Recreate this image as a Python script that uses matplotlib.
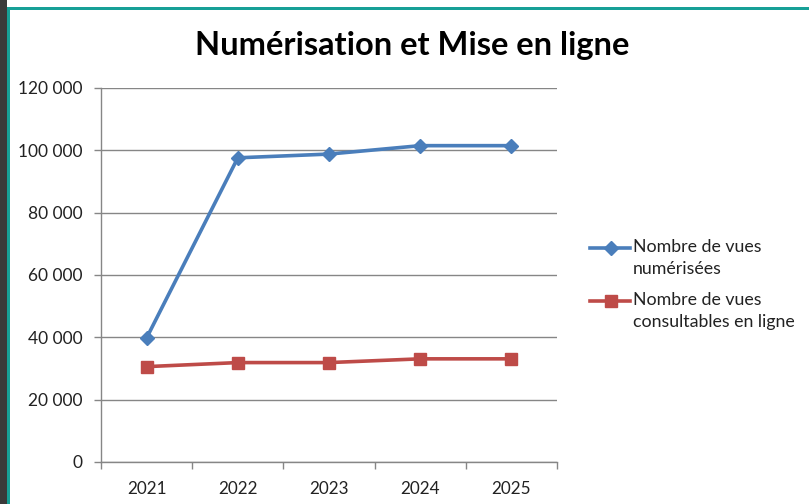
import numpy as np
import matplotlib
matplotlib.use("Agg")
import matplotlib.pyplot as plt
from matplotlib.patches import Rectangle
from matplotlib.lines import Line2D
from matplotlib.ticker import FuncFormatter, FixedLocator

plt.rcParams['font.family'] = ['Lato', 'DejaVu Sans']

# données
annees = ['2021', '2022', '2023', '2024', '2025']
vues_numerisees = [39800, 97600, 98800, 101500, 101500]
vues_en_ligne = [30600, 31900, 31900, 33100, 33100]
libelles = ['Nombre de vues\nnumérisées', 'Nombre de vues\nconsultables en ligne']

bleu = '#4a7ebb'
rouge = '#be4b48'
gris = '#868686'
teal = '#17a097'

W, H = 809, 504
fig = plt.figure(figsize=(W / 100, H / 100), dpi=100)
ax = fig.add_axes([101 / W, 1 - 462 / H, 456 / W, 374 / H])

x = np.arange(len(annees))
styles = [dict(color=bleu, marker='D', ms=7), dict(color=rouge, marker='s', ms=8.5)]
for serie, st in zip([vues_numerisees, vues_en_ligne], styles):
    ax.plot(x, serie, lw=2.6, **st)

ax.set_xlim(-0.5, len(annees) - 0.5)
ax.set_ylim(0, 120000)
ax.set_yticks(np.arange(0, 120001, 20000))
ax.yaxis.set_major_formatter(FuncFormatter(lambda v, p: f'{int(v):,}'.replace(',', ' ')))
ax.grid(axis='y', color=gris, lw=1)
ax.set_axisbelow(True)

ax.set_xticks(x)
ax.set_xticklabels(annees)
ax.xaxis.set_minor_locator(FixedLocator(np.arange(-0.5, len(annees), 1)))
ax.tick_params(axis='x', which='major', length=0, pad=14, labelsize=12.3, colors='#222222')
ax.tick_params(axis='x', which='minor', length=5, width=1, color=gris)
ax.tick_params(axis='y', length=5, width=1, color=gris, pad=8, labelsize=12.5, labelcolor='#222222')

for side in ['top', 'right']:
    ax.spines[side].set_visible(False)
for side in ['left', 'bottom']:
    ax.spines[side].set_color(gris)
    ax.spines[side].set_linewidth(1)

fig.text(412 / W, 1 - 45 / H, 'Numérisation et Mise en ligne', ha='center', va='center',
         fontsize=23.5, fontweight='bold', color='black')

# légende : symbole aligné sur la première ligne du libellé
for (y0, lab, st) in zip([248, 301], libelles, styles):
    fig.add_artist(Line2D([590 / W, 630 / W], [1 - y0 / H] * 2, transform=fig.transFigure,
                          lw=2.6, markevery=[], **st))
    fig.add_artist(Line2D([611 / W], [1 - y0 / H], transform=fig.transFigure,
                          lw=0, **st))
    fig.text(633 / W, 1 - (y0 - 9) / H, lab, ha='left', va='top', fontsize=12.8,
             color='#222222', linespacing=1.45)

# cadre de la capture
fig.add_artist(Rectangle((0, 0), 7 / W, 1, transform=fig.transFigure, color='#3a3a3a', lw=0))
fig.add_artist(Rectangle((7 / W, 0), 3 / W, 1 - 7 / H, transform=fig.transFigure, color=teal, lw=0))
fig.add_artist(Rectangle((7 / W, 1 - 10 / H), 1, 3 / H, transform=fig.transFigure, color=teal, lw=0))

fig.savefig('out.png', dpi=100)
